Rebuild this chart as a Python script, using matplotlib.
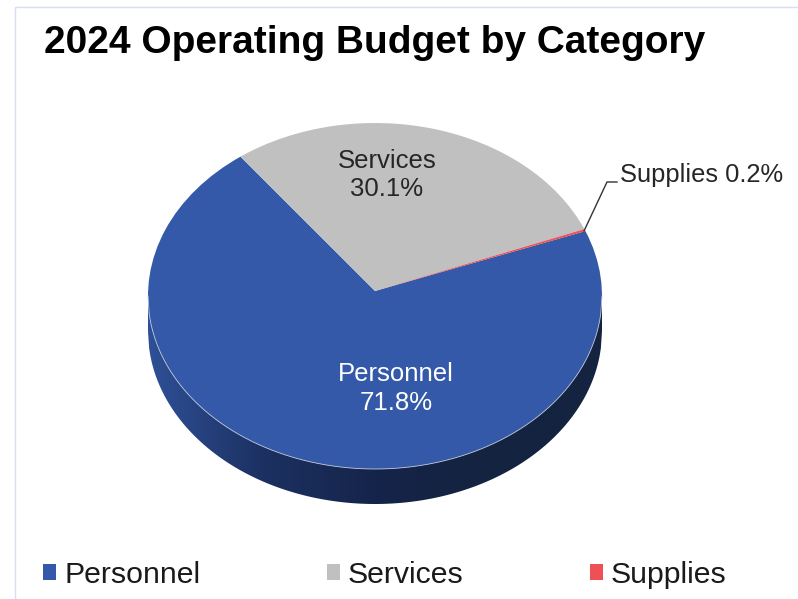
"""
2024 operating budget pie with a fake 3D rim.
"""

import numpy as np
import matplotlib
matplotlib.use("Agg")
import matplotlib.pyplot as plt
from matplotlib.colors import LinearSegmentedColormap
from matplotlib.patches import PathPatch, Polygon
from matplotlib.path import Path

categories = ["Personnel", "Services", "Supplies"]
percent_values = [71.8, 30.1, 0.2]
slice_colors = ["#3359A8", "#C0C0C0", "#EE5055"]
rim_colors = ["#2F5097", "#1C3162", "#15244A", "#14233F", "#14233F"]

WIDTH, HEIGHT = 798, 599
CENTER_X, CENTER_Y = 375, 296
RADIUS_X, RADIUS_Y = 227, 173
DEPTH = 35 / RADIUS_Y
# apex sits above the ellipse centre because of the 3D perspective
APEX_SHIFT = 5 / RADIUS_Y

plt.rcParams["font.family"] = ["Liberation Sans", "DejaVu Sans"]


def fx(px):
    return px / WIDTH


def fy(py):
    return 1 - py / HEIGHT


def tilt(vertices):
    """Projective map of the unit disc that moves its centre upwards."""
    x, y = vertices[:, 0], vertices[:, 1]
    scale = 1 + APEX_SHIFT * y
    new_x = x * np.sqrt(1 - APEX_SHIFT ** 2) / scale
    new_y = (y + APEX_SHIFT) / scale
    return np.column_stack([new_x, new_y])


fig = plt.figure(figsize=(WIDTH / 100, HEIGHT / 100), dpi=100)
ax = fig.add_axes([0, 0, 1, 1])

wedges, _ = ax.pie(
    percent_values,
    colors=slice_colors,
    startangle=20.5,
    counterclock=False,
    radius=1,
    wedgeprops={"linewidth": 0},
)

slices = []
for wedge in wedges:
    path = wedge.get_path()
    tilted = PathPatch(
        Path(tilt(path.vertices), path.codes),
        facecolor=wedge.get_facecolor(),
        linewidth=0,
        zorder=3,
    )
    ax.add_patch(tilted)
    slices.append(tilted)
    wedge.remove()

# stretch the unit circle into the tilted ellipse
ax.set_aspect("auto")
x_limits = ((0 - CENTER_X) / RADIUS_X, (WIDTH - CENTER_X) / RADIUS_X)
y_limits = ((CENTER_Y - HEIGHT) / RADIUS_Y, CENTER_Y / RADIUS_Y)

# rim under the top face, gradient clipped to the lower half
edge_x = np.linspace(-1, 1, 400)
edge_y = -np.sqrt(1 - edge_x ** 2)
rim_outline = np.column_stack([
    np.concatenate([edge_x, edge_x[::-1]]),
    np.concatenate([edge_y + 0.02, (edge_y - DEPTH)[::-1]]),
])
rim_cmap = LinearSegmentedColormap.from_list("rim", rim_colors)
rim_image = ax.imshow(
    np.linspace(0, 1, 256).reshape(1, -1),
    cmap=rim_cmap,
    extent=(-1, 1, -1 - DEPTH, 0),
    aspect="auto",
    zorder=1,
)
rim_clip = Polygon(rim_outline, closed=True, transform=ax.transData)
rim_image.set_clip_path(rim_clip)

# thin pale seam between top face and rim
ax.plot(edge_x, edge_y, color="#C6CEDF", linewidth=0.6, zorder=4)

ax.set_xlim(*x_limits)
ax.set_ylim(*y_limits)
ax.axis("off")

fig.text(fx(44), fy(43), "2024 Operating Budget by Category",
         fontsize=28, fontweight="bold", color="black",
         ha="left", va="center")

fig.text(fx(387), fy(175), f"{categories[1]}\n{percent_values[1]}%",
         fontsize=18.5, color="#262626", ha="center", va="center",
         multialignment="center", linespacing=1.25)
fig.text(fx(396), fy(388.5), f"{categories[0]}\n{percent_values[0]}%",
         fontsize=18.5, color="white", ha="center", va="center",
         multialignment="center", linespacing=1.25)
fig.text(fx(620), fy(175), f"{categories[2]} {percent_values[2]}%",
         fontsize=18.4, color="#262626", ha="left", va="center")

# leader line for the tiny slice
fig.add_artist(plt.Line2D(
    [fx(584), fx(607), fx(617)], [fy(231), fy(182), fy(182)],
    color="#333333", linewidth=1.0,
))

# chart frame, only left and top show
fig.add_artist(plt.Line2D(
    [fx(14.5), fx(14.5), fx(798)], [fy(599), fy(6.5), fy(6.5)],
    color="#D5DEF5", linewidth=1.0,
))

fig.legend(
    slices,
    categories,
    loc="center left",
    bbox_to_anchor=(fx(43), fy(575)),
    ncol=3,
    frameon=False,
    fontsize=21.8,
    labelcolor="#1A1A1A",
    handlelength=0.43,
    handleheight=0.43,
    handletextpad=0.27,
    columnspacing=4.17,
    borderpad=0,
    borderaxespad=0,
)

fig.savefig("out.png", dpi=100)
plt.close(fig)
